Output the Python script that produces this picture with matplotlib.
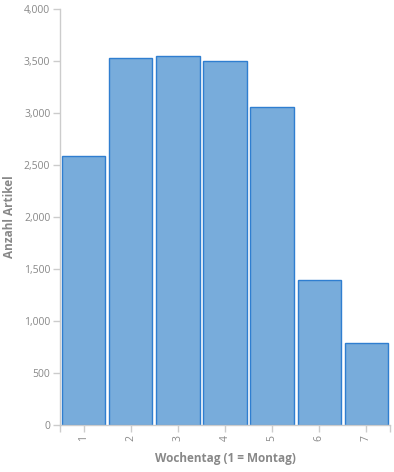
import matplotlib

matplotlib.use("Agg")
import matplotlib.pyplot as plt
from matplotlib.ticker import FuncFormatter

# Anzahl Artikel je Wochentag
weekdays = ["1", "2", "3", "4", "5", "6", "7"]
counts = [2590, 3530, 3550, 3500, 3060, 1395, 790]

plt.rcParams.update({
    "font.family": ["Open Sans", "DejaVu Sans"],
    "figure.facecolor": "white",
})

GREY = "#888888"
AXIS = "#cccccc"
FILL = "#78acdb"
EDGE = "#2f7ed0"

fig = plt.figure(figsize=(3.94, 4.72), dpi=100)
ax = fig.add_axes([60 / 394, 47 / 472, 330 / 394, 416 / 472])

x = list(range(len(weekdays)))
ax.bar(x, counts, width=0.92, color=FILL, edgecolor=EDGE, linewidth=1.0)

ax.set_xlim(-0.5, len(weekdays) - 0.5)
ax.set_ylim(0, 4000)
ax.set_yticks(range(0, 4001, 500))
ax.yaxis.set_major_formatter(FuncFormatter(lambda v, _: f"{int(v):,}"))
ax.set_xticks(x)
ax.set_xticklabels(weekdays, rotation=90)
ax.set_xticks([-0.5, len(weekdays) - 0.5], minor=True)

for side in ("top", "right"):
    ax.spines[side].set_visible(False)
for side in ("left", "bottom"):
    ax.spines[side].set_color(AXIS)
    ax.spines[side].set_linewidth(1.0)

ax.tick_params(axis="both", which="both", colors=AXIS, labelcolor=GREY,
               labelsize=7.5, length=5, width=1.0, pad=2)
ax.tick_params(axis="x", which="minor", length=5)

ax.set_xlabel("Wochentag (1 = Montag)", color=GREY, fontsize=8.5,
              fontweight="bold", labelpad=8)
ax.set_ylabel("Anzahl Artikel", color=GREY, fontsize=8.5,
              fontweight="bold", labelpad=6)

fig.savefig("out.png", dpi=100)
